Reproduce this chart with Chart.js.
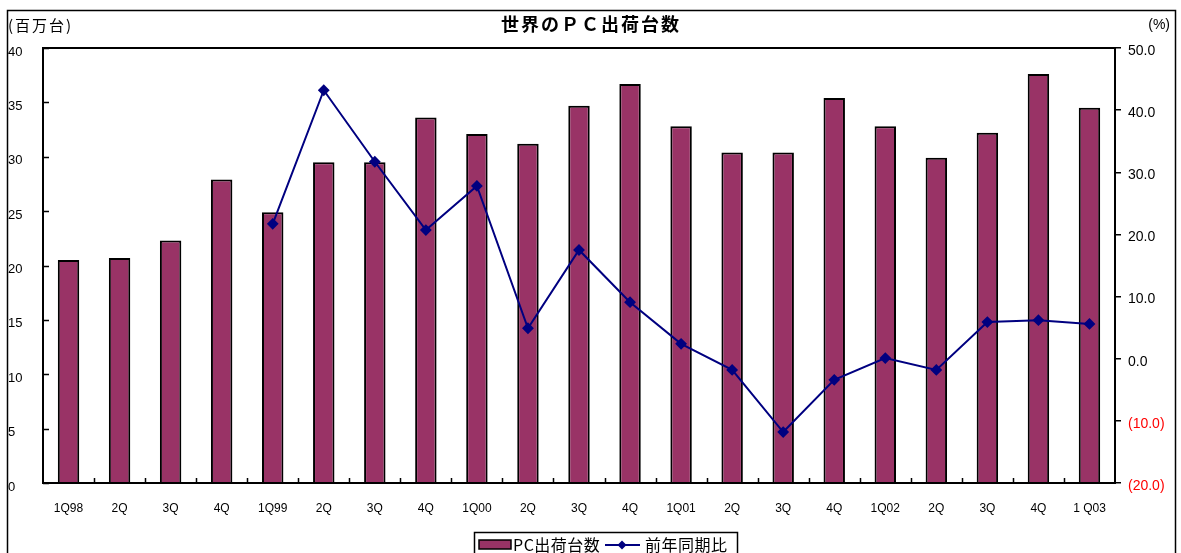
<!DOCTYPE html>
<html><head><meta charset="utf-8">
<script src="https://cdn.jsdelivr.net/npm/chart.js@4.4.0/dist/chart.umd.min.js"></script>
<style>html,body{margin:0;padding:0;background:#fff;overflow:hidden}canvas{display:block}</style>
</head><body>
<canvas id="c" width="1181" height="553"></canvas>
<script>
const categories = ['1Q98','2Q','3Q','4Q','1Q99','2Q','3Q','4Q','1Q00','2Q','3Q','4Q','1Q01','2Q','3Q','4Q','1Q02','2Q','3Q','4Q','1 Q03'];
const shipments = [20.5, 20.7, 22.3, 27.9, 24.9, 29.5, 29.5, 33.6, 32.1, 31.2, 34.7, 36.7, 32.8, 30.4, 30.4, 35.4, 32.8, 29.9, 32.2, 37.6, 34.5];
const yoyGrowth = [null, null, null, null, 21.7, 43.2, 31.7, 20.7, 27.8, 4.9, 17.5, 9.1, 2.4, -1.8, -11.8, -3.4, 0.1, -1.8, 5.9, 6.2, 5.6];
const leftTicks = [0, 5, 10, 15, 20, 25, 30, 35, 40];
const rightTicks = [-20, -10, 0, 10, 20, 30, 40, 50];
const chartTitle = '世界のＰＣ出荷台数';
const leftUnit = '(百万台)';
const rightUnit = '(%)';
const seriesNames = ['PC出荷台数', '前年同期比'];

const BAR_COLOR = '#993366';
const LINE_COLOR = '#000080';
const SANS = "'Liberation Sans', Arial, sans-serif";
const CJK = "'Noto Sans CJK JP', sans-serif";

const decor = {
  id: 'decor',
  afterDraw(chart) {
    const ctx = chart.ctx;
    const ca = chart.chartArea;
    const xs = chart.scales.x, ys = chart.scales.y;
    ctx.save();
    // outer frame
    ctx.strokeStyle = '#000';
    ctx.lineWidth = 1.5;
    ctx.strokeRect(7.5, 10.5, 1168, 560);
    // plot border
    ctx.lineWidth = 2;
    ctx.strokeRect(ca.left, ca.top, ca.right - ca.left, ca.bottom - ca.top);
    // left inward ticks
    ctx.lineWidth = 1.5;
    ctx.beginPath();
    leftTicks.forEach(v => {
      const y = Math.round(ys.getPixelForValue(v)) + 0.5;
      ctx.moveTo(ca.left, y); ctx.lineTo(ca.left + 6, y);
    });
    // category boundary ticks
    for (let i = 1; i < categories.length; i++) {
      const x = Math.round((xs.getPixelForValue(i - 1) + xs.getPixelForValue(i)) / 2) + 0.5;
      ctx.moveTo(x, ca.bottom); ctx.lineTo(x, ca.bottom - 5);
    }
    ctx.stroke();
    // title
    ctx.fillStyle = '#000';
    ctx.textBaseline = 'middle';
    ctx.font = 'bold 18px ' + CJK;
    ctx.letterSpacing = '2px';
    ctx.textAlign = 'center';
    ctx.fillText(chartTitle, 591, 24);
    // units
    ctx.font = '15px ' + CJK;
    ctx.letterSpacing = '2px';
    ctx.textAlign = 'left';
    ctx.fillText(leftUnit, 8, 25);
    ctx.letterSpacing = '0px';
    ctx.font = '14px ' + SANS;
    ctx.textAlign = 'right';
    ctx.fillText(rightUnit, 1170, 25);
    // legend
    ctx.lineWidth = 1.5;
    ctx.strokeStyle = '#000';
    ctx.strokeRect(474.5, 532.5, 263, 30);
    ctx.fillStyle = BAR_COLOR;
    ctx.fillRect(479, 540, 32, 9);
    ctx.strokeRect(479, 540, 32, 9);
    ctx.fillStyle = '#000';
    ctx.textAlign = 'left';
    ctx.font = '16px ' + CJK;
    ctx.letterSpacing = '0.5px';
    ctx.fillText(seriesNames[0], 513, 545);
    ctx.strokeStyle = LINE_COLOR;
    ctx.lineWidth = 2;
    ctx.beginPath(); ctx.moveTo(605, 545); ctx.lineTo(640, 545); ctx.stroke();
    ctx.fillStyle = LINE_COLOR;
    ctx.beginPath();
    ctx.moveTo(622, 540.5); ctx.lineTo(626.5, 545); ctx.lineTo(622, 549.5); ctx.lineTo(617.5, 545); ctx.closePath();
    ctx.fill();
    ctx.fillStyle = '#000';
    ctx.fillText(seriesNames[1], 645, 545);
    ctx.restore();
  }
};

new Chart(document.getElementById('c'), {
  data: {
    labels: categories,
    datasets: [
      {
        type: 'line', label: seriesNames[1], data: yoyGrowth, yAxisID: 'y1', order: 0,
        borderColor: LINE_COLOR, borderWidth: 2, tension: 0, spanGaps: false,
        pointStyle: 'rectRot', pointRadius: 4.5, pointBackgroundColor: LINE_COLOR, pointBorderColor: LINE_COLOR
      },
      {
        type: 'bar', label: seriesNames[0], data: shipments, yAxisID: 'y', order: 1,
        backgroundColor: BAR_COLOR, borderColor: '#000', borderWidth: 2,
        barPercentage: 0.42, categoryPercentage: 1
      }
    ]
  },
  options: {
    responsive: false, animation: false, devicePixelRatio: 1,
    layout: { padding: { top: 48, left: 8, right: 4, bottom: 0 } },
    plugins: { legend: { display: false }, title: { display: false }, tooltip: { enabled: false } },
    scales: {
      x: {
        grid: { display: false, drawTicks: false }, border: { display: false },
        ticks: { padding: 18, color: '#000', font: { family: SANS, size: 12 }, maxRotation: 0, autoSkip: false },
        afterFit: s => { s.height = 70; }
      },
      y: {
        position: 'left', min: 0, max: 40,
        grid: { display: false, drawTicks: false }, border: { display: false },
        ticks: { stepSize: 5, crossAlign: 'far', labelOffset: 4, color: '#000', font: { family: SANS, size: 13 } },
        afterFit: s => { s.width = 35; }
      },
      y1: {
        position: 'right', min: -20, max: 50,
        grid: { display: true, drawOnChartArea: false, drawTicks: true, tickLength: 6, color: '#000', lineWidth: 1.5 },
        border: { display: false },
        ticks: {
          stepSize: 10, padding: 7, labelOffset: 3, font: { family: SANS, size: 14 },
          color: c => (c.tick && c.tick.value < 0) ? '#ff0000' : '#000',
          callback: v => v < 0 ? '(' + Math.abs(v).toFixed(1) + ')' : v.toFixed(1)
        },
        afterFit: s => { s.width = 62; }
      }
    }
  },
  plugins: [decor]
});
</script>
</body></html>
